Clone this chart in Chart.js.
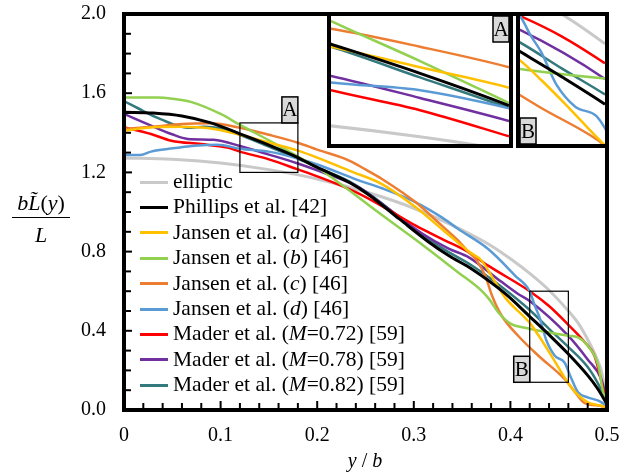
<!DOCTYPE html>
<html>
<head>
<meta charset="utf-8">
<script src="https://cdn.jsdelivr.net/npm/chart.js@4.4.0/dist/chart.umd.min.js"></script>
<style>
  body { margin: 0; background: #fff; }
  #wrap { position: relative; width: 621px; height: 476px; font-family: 'Liberation Serif', Tinos, 'Times New Roman', 'DejaVu Serif', serif; color: #000; }
  canvas { position: absolute; }
  #legend { position: absolute; left: 140px; top: 169px; font-size: 21.5px; line-height: 25.4px; white-space: nowrap; }
  #legend .sw { display: inline-block; width: 28px; height: 3px; vertical-align: middle; margin-right: 5px; position: relative; top: -1px; }
  #ytitle { position: absolute; left: 12px; top: 190px; width: 58px; text-align: center; font-size: 22px; line-height: 26px; }
  #ytitle .num { border-bottom: 1.5px solid #000; padding-bottom: 1px; }
  #ytitle .den { padding-top: 4px; }
  #xtitle { position: absolute; left: 315px; top: 449px; width: 100px; text-align: center; font-size: 20px; }
</style>
</head>
<body>
<div id="wrap">
  <canvas id="mainChart" width="621" height="476" style="left:0;top:0"></canvas>
  <canvas id="insetA" width="186" height="136" style="left:327px;top:12px"></canvas>
  <canvas id="insetB" width="93" height="136" style="left:516px;top:12px"></canvas>
  <div id="legend"></div>
  <div id="ytitle"><div class="num"><i>b</i><i>L&#771;</i>(<i>y</i>)</div><div class="den"><i>L</i></div></div>
  <div id="xtitle"><i>y</i> / <i>b</i></div>
</div>
<script>
// series labels (html for the legend) and colours
const seriesLabels = [
    'elliptic',
    'Phillips et al. [42]',
    'Jansen et al. (<i>a</i>) [46]',
    'Jansen et al. (<i>b</i>) [46]',
    'Jansen et al. (<i>c</i>) [46]',
    'Jansen et al. (<i>d</i>) [46]',
    'Mader et al. (<i>M</i>=0.72) [59]',
    'Mader et al. (<i>M</i>=0.78) [59]',
    'Mader et al. (<i>M</i>=0.82) [59]'
];
const seriesColors = ['#c9c9c9', '#000000', '#ffc000', '#92d050', '#ed7d31', '#5b9bd5', '#ff0000', '#7030a0', '#34797d'];

// values (y/b, bL/L)
const ellipticX = [0, 0.05, 0.1, 0.15, 0.2, 0.25, 0.3, 0.35, 0.38, 0.4, 0.42, 0.44, 0.46, 0.47, 0.48, 0.49, 0.495, 0.5];
const ellipticY = [1.273, 1.267, 1.247, 1.214, 1.167, 1.102, 1.019, 0.909, 0.83, 0.764, 0.69, 0.605, 0.50, 0.44, 0.356, 0.254, 0.18, 0.0];

const phillipsX = [0, 0.03, 0.06, 0.09, 0.12, 0.15, 0.18, 0.2, 0.233, 0.254, 0.285, 0.315, 0.336, 0.36, 0.395, 0.42, 0.44, 0.46, 0.48, 0.49, 0.5];
const phillipsY = [1.504, 1.50, 1.485, 1.45, 1.395, 1.338, 1.275, 1.225, 1.15, 1.085, 0.965, 0.85, 0.78, 0.712, 0.586, 0.472, 0.38, 0.283, 0.175, 0.11, 0.03];

const jansenAX = [0, 0.03, 0.06, 0.09, 0.12, 0.15, 0.18, 0.2, 0.233, 0.267, 0.302, 0.329, 0.357, 0.37, 0.385, 0.395, 0.42, 0.43, 0.443, 0.458, 0.467, 0.48, 0.495, 0.5];
const jansenAY = [1.41, 1.428, 1.43, 1.422, 1.39, 1.35, 1.31, 1.275, 1.209, 1.141, 1.024, 0.914, 0.80, 0.755, 0.64, 0.565, 0.44, 0.37, 0.27, 0.15, 0.09, 0.039, 0.02, 0.01];

const jansenBX = [0, 0.035, 0.05, 0.07, 0.1, 0.12, 0.15, 0.18, 0.2, 0.233, 0.26, 0.285, 0.302, 0.326, 0.346, 0.37, 0.378, 0.388, 0.401, 0.415, 0.43, 0.46, 0.47, 0.48, 0.491, 0.496, 0.5];
const jansenBY = [1.578, 1.578, 1.572, 1.555, 1.495, 1.44, 1.362, 1.28, 1.225, 1.11, 1.01, 0.92, 0.86, 0.77, 0.695, 0.603, 0.56, 0.49, 0.434, 0.415, 0.40, 0.375, 0.367, 0.325, 0.224, 0.09, 0.03];

const jansenCX = [0, 0.03, 0.06, 0.09, 0.12, 0.15, 0.18, 0.2, 0.233, 0.25, 0.267, 0.302, 0.329, 0.345, 0.357, 0.364, 0.374, 0.381, 0.391, 0.408, 0.429, 0.456, 0.467, 0.477, 0.494, 0.5];
const jansenCY = [1.42, 1.43, 1.445, 1.448, 1.425, 1.39, 1.35, 1.315, 1.26, 1.215, 1.167, 1.049, 0.931, 0.86, 0.796, 0.763, 0.678, 0.577, 0.476, 0.375, 0.274, 0.157, 0.09, 0.035, 0.02, 0.01];

const jansenDX = [0, 0.017, 0.028, 0.045, 0.073, 0.097, 0.12, 0.15, 0.18, 0.2, 0.243, 0.267, 0.302, 0.329, 0.346, 0.377, 0.405, 0.42, 0.425, 0.43, 0.437, 0.446, 0.456, 0.463, 0.47, 0.48, 0.491, 0.5];
const jansenDY = [1.288, 1.288, 1.305, 1.318, 1.335, 1.34, 1.32, 1.305, 1.27, 1.24, 1.16, 1.12, 1.049, 0.973, 0.914, 0.813, 0.678, 0.60, 0.53, 0.47, 0.355, 0.274, 0.24, 0.16, 0.09, 0.064, 0.047, 0.02];

const mader72X = [0, 0.028, 0.049, 0.08, 0.107, 0.12, 0.15, 0.18, 0.2, 0.24, 0.267, 0.302, 0.329, 0.357, 0.377, 0.42, 0.44, 0.46, 0.477, 0.487, 0.492, 0.496, 0.5];
const mader72Y = [1.428, 1.394, 1.36, 1.343, 1.325, 1.305, 1.266, 1.215, 1.18, 1.10, 1.03, 0.931, 0.864, 0.796, 0.729, 0.60, 0.525, 0.43, 0.342, 0.274, 0.19, 0.106, 0.03];

const mader78X = [0, 0.028, 0.049, 0.066, 0.093, 0.12, 0.15, 0.18, 0.2, 0.243, 0.27, 0.309, 0.336, 0.357, 0.39, 0.408, 0.42, 0.46, 0.48, 0.494, 0.5];
const mader78Y = [1.495, 1.436, 1.394, 1.369, 1.365, 1.333, 1.29, 1.245, 1.21, 1.125, 1.03, 0.89, 0.815, 0.771, 0.65, 0.586, 0.55, 0.374, 0.255, 0.157, 0.05];

const mader82X = [0, 0.02, 0.035, 0.05, 0.066, 0.083, 0.1, 0.12, 0.15, 0.18, 0.2, 0.233, 0.26, 0.3, 0.33, 0.36, 0.39, 0.42, 0.44, 0.46, 0.48, 0.49, 0.5];
const mader82Y = [1.56, 1.51, 1.475, 1.445, 1.425, 1.43, 1.422, 1.39, 1.33, 1.27, 1.225, 1.155, 1.07, 0.915, 0.815, 0.73, 0.625, 0.505, 0.41, 0.318, 0.217, 0.14, 0.04];

const seriesX = [ellipticX, phillipsX, jansenAX, jansenBX, jansenCX, jansenDX, mader72X, mader78X, mader82X];
const seriesY = [ellipticY, phillipsY, jansenAY, jansenBY, jansenCY, jansenDY, mader72Y, mader78Y, mader82Y];

// zoomed regions A and B (data units)
const zoomA = { xMin: 0.12, xMax: 0.18, yMin: 1.2, yMax: 1.45 };
const zoomB = { xMin: 0.42, xMax: 0.46, yMin: 0.14, yMax: 0.6 };

const serifFont = "'Liberation Serif', Tinos, 'Times New Roman', 'DejaVu Serif', serif";
Chart.defaults.font.family = serifFont;
Chart.defaults.font.size = 20;
Chart.defaults.color = '#000';

function buildDatasets() {
    return seriesLabels.map((label, i) => ({
        label: label.replace(/<[^>]+>/g, ''),
        data: seriesX[i].map((x, j) => ({ x: x, y: seriesY[i][j] })),
        borderColor: seriesColors[i],
        backgroundColor: seriesColors[i],
        borderWidth: i === 0 ? 3 : (i === 1 ? 3 : 2.5),
        pointRadius: 0,
        cubicInterpolationMode: 'monotone',
        fill: false,
        order: i === 1 ? 0 : (i === 0 ? 2 : 1)
    }));
}

function drawTag(ctx, text, left, top) {
    ctx.save();
    ctx.fillStyle = '#d9d9d9';
    ctx.fillRect(left, top, 16, 26);
    ctx.strokeStyle = '#000';
    ctx.lineWidth = 1.5;
    ctx.strokeRect(left, top, 16, 26);
    ctx.fillStyle = '#000';
    ctx.font = '21px ' + serifFont;
    ctx.textAlign = 'center';
    ctx.textBaseline = 'middle';
    ctx.fillText(text, left + 8, top + 14);
    ctx.restore();
}

// inward ticks, heavy frame and the two zoom boxes
const mainDecor = {
    id: 'mainDecor',
    afterDraw(chart) {
        const { ctx, chartArea: a, scales: { x, y } } = chart;
        ctx.save();
        ctx.strokeStyle = '#000';
        ctx.lineWidth = 2;
        x.ticks.forEach(t => {
            const px = x.getPixelForValue(t.value);
            const len = t.label ? 9 : 7;
            ctx.beginPath();
            ctx.moveTo(px, a.bottom);
            ctx.lineTo(px, a.bottom - len);
            ctx.stroke();
        });
        y.ticks.forEach(t => {
            const py = y.getPixelForValue(t.value);
            const len = t.label ? 8 : 7;
            ctx.beginPath();
            ctx.moveTo(a.left, py);
            ctx.lineTo(a.left + len, py);
            ctx.stroke();
        });
        ctx.lineWidth = 4;
        ctx.strokeRect(a.left, a.top, a.right - a.left, a.bottom - a.top);

        // zoom boxes
        ctx.lineWidth = 1.2;
        [zoomA, zoomB].forEach(z => {
            const l = x.getPixelForValue(z.xMin), r = x.getPixelForValue(z.xMax);
            const t = y.getPixelForValue(z.yMax), b = y.getPixelForValue(z.yMin);
            ctx.strokeRect(l, t, r - l, b - t);
        });
        ctx.restore();
        drawTag(ctx, 'A', x.getPixelForValue(zoomA.xMax) - 16, y.getPixelForValue(zoomA.yMax) - 26);
        drawTag(ctx, 'B', x.getPixelForValue(zoomB.xMin) - 16, y.getPixelForValue(zoomB.yMin) - 26);
    }
};

function insetDecor(tag, corner) {
    return {
        id: 'insetDecor',
        beforeDraw(chart) {
            const ctx = chart.ctx;
            ctx.save();
            ctx.fillStyle = '#fff';
            ctx.fillRect(0, 0, chart.width, chart.height);
            ctx.restore();
        },
        afterDraw(chart) {
            const { ctx, chartArea: a } = chart;
            ctx.save();
            ctx.strokeStyle = '#000';
            ctx.lineWidth = 4;
            ctx.strokeRect(a.left - 2, a.top - 2, a.right - a.left + 4, a.bottom - a.top + 4);
            ctx.restore();
            if (corner === 'topright') drawTag(ctx, tag, a.right - 16, a.top);
            else drawTag(ctx, tag, a.left, a.bottom - 26);
        }
    };
}

function initializeMainChart() {
    const ctx = document.getElementById('mainChart');
    new Chart(ctx, {
        type: 'line',
        data: { datasets: buildDatasets() },
        options: {
            responsive: false,
            animation: false,
            devicePixelRatio: 1,
            layout: { padding: { left: 0, top: 14, right: 14, bottom: 0 } },
            plugins: { legend: { display: false }, tooltip: { enabled: false } },
            scales: {
                x: {
                    type: 'linear',
                    min: 0,
                    max: 0.5,
                    grid: { display: false },
                    border: { display: false },
                    ticks: {
                        stepSize: 0.02,
                        autoSkip: false,
                        maxRotation: 0,
                        padding: 6,
                        callback: v => {
                            const r = Math.round(v * 100);
                            if (r % 10 !== 0) return '';
                            return r === 0 ? '0' : (r / 100).toFixed(1);
                        }
                    },
                    afterFit: scale => {
                        scale.height = 66;
                        scale.paddingLeft = 0;
                        scale.paddingRight = 0;
                    }
                },
                y: {
                    min: 0,
                    max: 2,
                    grid: { display: false },
                    border: { display: false },
                    ticks: {
                        stepSize: 0.1,
                        autoSkip: false,
                        padding: 10,
                        callback: v => {
                            const r = Math.round(v * 10);
                            return r % 4 === 0 ? (r / 10).toFixed(1) : '';
                        }
                    },
                    afterFit: scale => {
                        scale.width = 124;
                        scale.paddingTop = 0;
                        scale.paddingBottom = 0;
                    }
                }
            }
        },
        plugins: [mainDecor]
    });
}

function initializeInset(id, zoom, tag, corner) {
    const ctx = document.getElementById(id);
    new Chart(ctx, {
        type: 'line',
        data: { datasets: buildDatasets() },
        options: {
            responsive: false,
            animation: false,
            devicePixelRatio: 1,
            layout: { padding: 4 },
            plugins: { legend: { display: false }, tooltip: { enabled: false } },
            scales: {
                x: { type: 'linear', display: false, min: zoom.xMin, max: zoom.xMax },
                y: { display: false, min: zoom.yMin, max: zoom.yMax }
            }
        },
        plugins: [insetDecor(tag, corner)]
    });
}

function buildLegend() {
    const box = document.getElementById('legend');
    box.innerHTML = seriesLabels.map((label, i) =>
        `<div><span class="sw" style="background:${seriesColors[i]}"></span>${label}</div>`
    ).join('');
}

document.addEventListener('DOMContentLoaded', function() {
    initializeMainChart();
    initializeInset('insetA', zoomA, 'A', 'topright');
    initializeInset('insetB', zoomB, 'B', 'bottomleft');
    buildLegend();
});
</script>
</body>
</html>
